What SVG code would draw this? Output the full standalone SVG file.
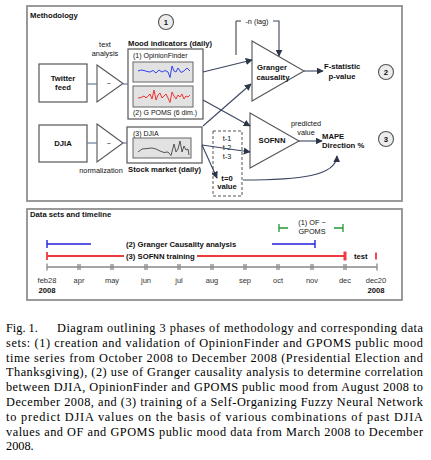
<svg xmlns="http://www.w3.org/2000/svg" width="431" height="460" viewBox="0 0 431 460">
<style>
.frame{fill:none;stroke:#8f8f8f;stroke-width:1.8}
.box{fill:#fff;stroke:#555;stroke-width:1.2}
.chart{fill:#e2e2e2;stroke:#666;stroke-width:1}
.tri{fill:#fff;stroke:#555;stroke-width:1.1}
.link{fill:none;stroke:#6b7a94;stroke-width:1.2}
.arr{fill:none;stroke:#3b4660;stroke-width:1.1;marker-end:url(#ah)}
.circ{fill:#ececec;stroke:#555;stroke-width:1.1}
text{font-family:"Liberation Sans",Arial,sans-serif;fill:#111}
.b{font-weight:bold;font-size:7.7px}
.r{font-size:7.3px}
.s{font-size:7px}
.c{text-anchor:middle}
.m{font-size:7.5px;fill:#333;text-anchor:middle}
.cap{font-family:"Liberation Serif","Times New Roman",serif;font-size:12.3px;fill:#000}
.ax{stroke:#888;stroke-width:1.3;fill:none}
</style>
<defs>
<marker id="ah" viewBox="0 0 10 10" refX="9" refY="5" markerWidth="7" markerHeight="7" markerUnits="userSpaceOnUse" orient="auto">
<path d="M0,0 L10,5 L0,10 z" fill="#2b3548"/>
</marker>
</defs>

<g id="methodology-frame">
<rect class="frame" x="27" y="6" width="375" height="195"/>
<text class="b" x="30" y="18">Methodology</text>
</g>
<g id="phase1"><circle class="circ" cx="166" cy="22" r="7.5"/><text class="b c" x="166" y="25">1</text></g>
<g id="phase2"><circle class="circ" cx="386" cy="72" r="7.5"/><text class="b c" x="386" y="75">2</text></g>
<g id="phase3"><circle class="circ" cx="386" cy="139" r="7.5"/><text class="b c" x="386" y="142">3</text></g>

<g id="twitter-feed">
<rect class="box" x="39" y="64" width="48" height="38"/>
<text class="b c" x="63" y="81">Twitter</text>
<text class="b c" x="63" y="90">feed</text>
</g>
<g id="djia-source">
<rect class="box" x="39" y="125" width="48" height="37"/>
<text class="b c" x="63" y="146">DJIA</text>
</g>
<g id="text-analysis">
<path class="tri" d="M97,65 L123,83.5 L97,102 Z"/>
<text class="r c" x="109" y="86">~</text>
<text class="r c" x="105" y="47">text</text>
<text class="r c" x="105" y="56">analysis</text>
</g>
<g id="normalization">
<path class="tri" d="M97,124 L123,143 L97,162 Z"/>
<text class="r c" x="109" y="146">~</text>
<text class="r c" x="101" y="173">normalization</text>
</g>

<g id="mood-indicators">
<text class="b" x="128" y="46">Mood indicators (daily)</text>
<rect class="box" x="128" y="49" width="75" height="70"/>
<text class="s" x="133" y="57.5">(1) OpinionFinder</text>
<rect class="chart" x="133" y="62" width="60" height="20"/>
<path d="M138,71 L141,70 L144,70.5 L147,71.5 L150,72 L153,70.5 L156,73 L159,70 L162,72 L165,70.5 L168,72 L170,77.5 L172,66 L174,71 L176,72 L178,68 L181,72.5 L184,71 L187,68 L190,71" fill="none" stroke="#3344ee" stroke-width="1"/>
<rect class="chart" x="133" y="86" width="60" height="21"/>
<path d="M138,98 L141,97.5 L144,96 L146,98 L148,96 L150,94 L152,99 L154,90 L156,100 L158,95 L160,93 L162,98 L164,96 L166,94 L168,98 L170,102.5 L172,92 L174,96 L176,99 L178,95 L180,97 L182,94 L184,99 L186,96 L188,97 L190,95" fill="none" stroke="#ee3333" stroke-width="1"/>
<text class="s" x="133" y="115">(2) G POMS (6 dim.)</text>
</g>

<g id="stock-market">
<rect class="box" x="127" y="127" width="75" height="36"/>
<text class="s" x="133" y="135.5">(3) DJIA</text>
<rect class="chart" x="133" y="138" width="58" height="20"/>
<path d="M138,152 L142,149 L147,148.5 L152,148 L156,149 L160,151 L164,152.5 L168,152 L171,155.5 L174,144 L176,152 L178,149 L180,141 L182,152 L184,146 L186,150 L188,149 L189,155" fill="none" stroke="#444" stroke-width="0.9"/>
<text class="b" x="128" y="172">Stock market (daily)</text>
</g>

<g id="granger">
<path class="tri" d="M252,41 L304,71 L252,101 Z"/>
<text class="b c" x="272" y="70">Granger</text>
<text class="b c" x="273" y="79.5">causality</text>
<text class="r c" x="257" y="23.5">-n (lag)</text>
<text class="b" x="324" y="69">F-statistic</text>
<text class="b c" x="342" y="78.5">p-value</text>
</g>

<g id="sofnn">
<path class="tri" d="M250,113 L299,141 L250,168 Z"/>
<text class="b c" x="272" y="143">SOFNN</text>
<text class="r c" x="306" y="125.5">predicted</text>
<text class="r c" x="306" y="135">value</text>
<text class="b" x="322" y="139">MAPE</text>
<text class="b" x="322" y="148">Direction %</text>
</g>

<g id="lag-window">
<rect x="213" y="131" width="29" height="65" fill="none" stroke="#555" stroke-width="1" stroke-dasharray="3,2"/>
<text class="r c" x="227" y="140.5">t-1</text>
<text class="r c" x="227" y="149.5">t-2</text>
<text class="r c" x="227" y="158.5">t-3</text>
<text class="b c" x="227" y="180.5">t=0</text>
<text class="b c" x="227" y="189">value</text>
</g>

<g id="connectors">
<path class="link" d="M87,84 H97"/>
<path class="link" d="M123,84 H128"/>
<path class="link" d="M87,143 H97"/>
<path class="link" d="M123,143 H127"/>
<path class="arr" d="M203,72 L252,60"/>
<path class="arr" d="M203,100 L250,126"/>
<path class="arr" d="M203,126 L251,84"/>
<path class="arr" d="M202,145 L250,152"/>
<path class="arr" d="M202,145 L217,178"/>
<path class="arr" d="M304,71 L323,71"/>
<path class="arr" d="M299,141 L322,141"/>
<path class="arr" d="M243,180 C300,180 336,176 337,156"/>
<path fill="none" stroke="#333" stroke-width="1" d="M236,55 V21 H241"/>
<path class="arr" d="M273,21 H279 V56"/>
</g>

<g id="timeline">
<rect class="frame" x="27" y="209" width="375" height="91"/>
<text class="b" x="30" y="217">Data sets and timeline</text>
<g id="of-gpoms">
<path d="M279,228 H288 M279,224 V232 M334,228 H343 M343,224 V232" stroke="#229933" stroke-width="1.3" fill="none"/>
<text class="r c" x="312" y="225">(1) OF ~</text>
<text class="r c" x="312" y="234">GPOMS</text>
</g>
<g id="granger-period">
<path d="M47,244 H91 M47,240 V248 M272,244 H315 M315,240 V248" stroke="#2222dd" stroke-width="1.4" fill="none"/>
<text class="b" x="126" y="247">(2) Granger Causality analysis</text>
</g>
<g id="sofnn-period">
<path d="M47,256 H124 M197,256 H345 M47,252 V260 M376,252.5 V259.5" stroke="#ee3b3b" stroke-width="1.8" fill="none"/>
<path d="M345,251.5 V260.5" stroke="#ee3b3b" stroke-width="3" fill="none"/>
<text class="b" x="126" y="259">(3) SOFNN training</text>
<text class="b" x="354" y="259">test</text>
</g>
<g id="axis">
<path class="ax" d="M47,267 H377 M47,263.5 V270.5 M377,263.5 V270.5"/>
<path class="ax" stroke-width="1" d="M78,264 V270 M80,264 V270 M111,264 V270 M113,264 V270 M145,264 V270 M147,264 V270 M178,264 V270 M180,264 V270 M211,264 V270 M213,264 V270 M244,264 V270 M246,264 V270 M277,264 V270 M279,264 V270 M311,264 V270 M313,264 V270 M344,264 V270 M346,264 V270"/>
<text class="m" x="47" y="283">feb28</text>
<text class="m" x="79" y="283">apr</text>
<text class="m" x="112" y="283">may</text>
<text class="m" x="146" y="283">jun</text>
<text class="m" x="179" y="283">jul</text>
<text class="m" x="212" y="283">aug</text>
<text class="m" x="245" y="283">sep</text>
<text class="m" x="278" y="283">oct</text>
<text class="m" x="312" y="283">nov</text>
<text class="m" x="345" y="283">dec</text>
<text class="m" x="376" y="283">dec20</text>
<text class="b c" x="47" y="292.5">2008</text>
<text class="b c" x="376" y="292.5">2008</text>
</g>
</g>

<g id="caption">
<text class="cap" x="6" y="332">Fig. 1.</text>
<text class="cap" x="57" y="332" textLength="366" lengthAdjust="spacing">Diagram outlining 3 phases of methodology and corresponding data</text>
<text class="cap" x="6" y="346.8" textLength="417" lengthAdjust="spacing">sets: (1) creation and validation of OpinionFinder and GPOMS public mood</text>
<text class="cap" x="6" y="361.6" textLength="417" lengthAdjust="spacing">time series from October 2008 to December 2008 (Presidential Election and</text>
<text class="cap" x="6" y="376.4" textLength="417" lengthAdjust="spacing">Thanksgiving), (2) use of Granger causality analysis to determine correlation</text>
<text class="cap" x="6" y="391.2" textLength="417" lengthAdjust="spacing">between DJIA, OpinionFinder and GPOMS public mood from August 2008 to</text>
<text class="cap" x="6" y="406" textLength="417" lengthAdjust="spacing">December 2008, and (3) training of a Self-Organizing Fuzzy Neural Network</text>
<text class="cap" x="6" y="420.8" textLength="417" lengthAdjust="spacing">to predict DJIA values on the basis of various combinations of past DJIA</text>
<text class="cap" x="6" y="435.6" textLength="417" lengthAdjust="spacing">values and OF and GPOMS public mood data from March 2008 to December</text>
<text class="cap" x="6" y="450.4">2008.</text>
</g>
</svg>
